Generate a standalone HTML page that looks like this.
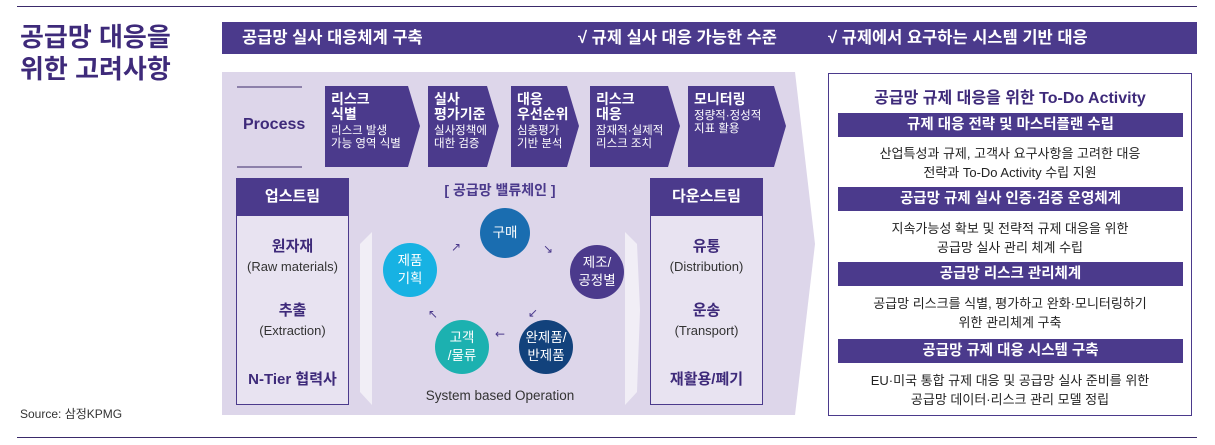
<!DOCTYPE html>
<html><head><meta charset="utf-8"><style>
*{margin:0;padding:0;box-sizing:border-box}
body{width:1215px;height:445px;background:#fff;position:relative;overflow:hidden;font-family:"Liberation Sans","Noto Sans CJK KR",sans-serif;color:#333}
.a{position:absolute}
.hl{position:absolute;height:1px;background:#3a2a6a}
.c{text-align:center}
.pu{background:#4b3a8c;color:#fff}
.chev{position:absolute;top:86px;height:81px;color:#fff;padding:6px 0 0 6px;font-size:11.5px;line-height:12.5px}
.chev b{display:block;font-size:14px;line-height:15px;margin-bottom:3px}
.circ{position:absolute;border-radius:50%;color:#fff;display:flex;align-items:center;justify-content:center;text-align:center;font-size:13.5px;line-height:18px}
.bar{position:absolute;left:838px;width:345px;height:24px;background:#4b3a8c;color:#fff;font-weight:bold;font-size:14.5px;line-height:24px;text-align:center}
.desc{position:absolute;left:830px;width:360px;text-align:center;font-size:13px;line-height:19px;color:#222}
</style></head><body>
<div class="hl" style="left:17px;top:6px;width:1180px"></div>
<div class="hl" style="left:17px;top:437px;width:1180px"></div>
<div class="a" style="left:20px;top:21px;font-size:26px;line-height:32px;font-weight:bold;color:#3e2a7a">공급망 대응을<br>위한 고려사항</div>
<div class="a" style="left:20px;top:405px;font-size:12px;color:#333">Source: 삼정KPMG</div>

<div class="a pu" style="left:222px;top:22px;width:975px;height:32px;font-weight:bold;font-size:16.5px;line-height:32px">
<span class="a" style="left:20px">공급망 실사 대응체계 구축</span>
<span class="a" style="left:356px">√ 규제 실사 대응 가능한 수준</span>
<span class="a" style="left:606px">√ 규제에서 요구하는 시스템 기반 대응</span>
</div>

<svg class="a" style="left:0;top:0" width="1215" height="445">
<polygon points="222,72 795,72 815,244 795,415 222,415" fill="#ddd6ea"/>
<polygon points="372,232 360,244 360,392 372,405" fill="#f1eef6"/>
<polygon points="625,232 637,244 640,310 637,392 625,405" fill="#f1eef6"/>
<line x1="237" y1="87" x2="302" y2="87" stroke="#3a2a6a"/>
<line x1="237" y1="167" x2="302" y2="167" stroke="#3a2a6a"/>
<polygon points="325,86 408,86 420,126 408,167 325,167" fill="#4b3a8c"/>
<polygon points="428,86 487,86 499,126 487,167 428,167" fill="#4b3a8c"/>
<polygon points="511,86 567,86 579,126 567,167 511,167" fill="#4b3a8c"/>
<polygon points="590,86 668,86 680,126 668,167 590,167" fill="#4b3a8c"/>
<polygon points="688,86 774,86 786,126 774,167 688,167" fill="#4b3a8c"/>
<g fill="#4b3a8c" font-size="12" font-family="DejaVu Sans">
<text x="451" y="251">↗</text><text x="543" y="253">↘</text><text x="528" y="317">↙</text><text x="428" y="318">↖</text><text x="495" y="338">←</text>
</g>
<rect x="236.5" y="178.5" width="112" height="226" fill="#e8e3f1" stroke="#4b3a8c"/>
<rect x="650.5" y="178.5" width="112" height="226" fill="#e8e3f1" stroke="#4b3a8c"/>
<rect x="236" y="178" width="113" height="38" fill="#4b3a8c"/>
<rect x="650" y="178" width="113" height="38" fill="#4b3a8c"/>
<rect x="828.5" y="73.5" width="363" height="342" fill="#fff" stroke="#4b3a8c"/>
</svg>
<div class="a" style="left:243px;top:116px;font-size:16px;font-weight:bold;color:#3e2a7a">Process</div>
<div class="chev" style="left:325px;width:92px"><b>리스크<br>식별</b>리스크 발생<br>가능 영역 식별</div>
<div class="chev" style="left:428px;width:68px"><b>실사<br>평가기준</b>실사정책에<br>대한 검증</div>
<div class="chev" style="left:511px;width:66px"><b>대응<br>우선순위</b>심층평가<br>기반 분석</div>
<div class="chev" style="left:590px;width:88px"><b>리스크<br>대응</b>잠재적·실제적<br>리스크 조치</div>
<div class="chev" style="left:688px;width:96px"><b>모니터링</b>정량적·정성적<br>지표 활용</div>

<div class="a c" style="left:236px;top:178px;width:113px;line-height:38px;color:#fff;font-weight:bold;font-size:15px">업스트림</div>
<div class="a c" style="left:650px;top:178px;width:113px;line-height:38px;color:#fff;font-weight:bold;font-size:15px">다운스트림</div>
<div class="a c" style="left:236px;top:237px;width:113px;color:#3e2a7a;font-size:13px;line-height:20px"><b style="font-size:15px">원자재</b><br><span style="color:#333">(Raw materials)</span></div>
<div class="a c" style="left:236px;top:301px;width:113px;color:#3e2a7a;font-size:13px;line-height:20px"><b style="font-size:15px">추출</b><br><span style="color:#333">(Extraction)</span></div>
<div class="a c" style="left:236px;top:368px;width:113px;color:#3e2a7a;font-size:15px;font-weight:bold">N-Tier 협력사</div>
<div class="a c" style="left:650px;top:237px;width:113px;color:#3e2a7a;font-size:13px;line-height:20px"><b style="font-size:15px">유통</b><br><span style="color:#333">(Distribution)</span></div>
<div class="a c" style="left:650px;top:301px;width:113px;color:#3e2a7a;font-size:13px;line-height:20px"><b style="font-size:15px">운송</b><br><span style="color:#333">(Transport)</span></div>
<div class="a c" style="left:650px;top:368px;width:113px;color:#3e2a7a;font-size:15px;font-weight:bold">재활용/폐기</div>

<div class="a c" style="left:380px;top:180px;width:240px;font-size:14px;font-weight:bold;color:#4b3a8c">[ 공급망 밸류체인 ]</div>
<div class="circ" style="left:480px;top:208px;width:50px;height:50px;background:#1a6db0">구매</div>
<div class="circ" style="left:570px;top:245px;width:54px;height:54px;background:#4b3a8c">제조/<br>공정별</div>
<div class="circ" style="left:519px;top:320px;width:54px;height:54px;background:#12427c">완제품/<br>반제품</div>
<div class="circ" style="left:435px;top:320px;width:54px;height:54px;background:#1cb1b0">고객<br>/물류</div>
<div class="circ" style="left:383px;top:243px;width:54px;height:54px;background:#17b2e3">제품<br>기획</div>
<div class="a c" style="left:395px;top:388px;width:210px;font-size:13.5px;color:#333">System based Operation</div>

<div class="a c" style="left:828px;top:84px;width:364px;font-size:16px;font-weight:bold;color:#3e2a7a">공급망 규제 대응을 위한 To-Do Activity</div>
<div class="bar" style="top:113px">규제 대응 전략 및 마스터플랜 수립</div>
<div class="desc" style="top:144px">산업특성과 규제, 고객사 요구사항을 고려한 대응<br>전략과 To-Do Activity 수립 지원</div>
<div class="bar" style="top:187px">공급망 규제 실사 인증·검증 운영체계</div>
<div class="desc" style="top:219px">지속가능성 확보 및 전략적 규제 대응을 위한<br>공급망 실사 관리 체계 수립</div>
<div class="bar" style="top:262px">공급망 리스크 관리체계</div>
<div class="desc" style="top:294px">공급망 리스크를 식별, 평가하고 완화·모니터링하기<br>위한 관리체계 구축</div>
<div class="bar" style="top:339px">공급망 규제 대응 시스템 구축</div>
<div class="desc" style="top:371px">EU·미국 통합 규제 대응 및 공급망 실사 준비를 위한<br>공급망 데이터·리스크 관리 모델 정립</div>
</body></html>
